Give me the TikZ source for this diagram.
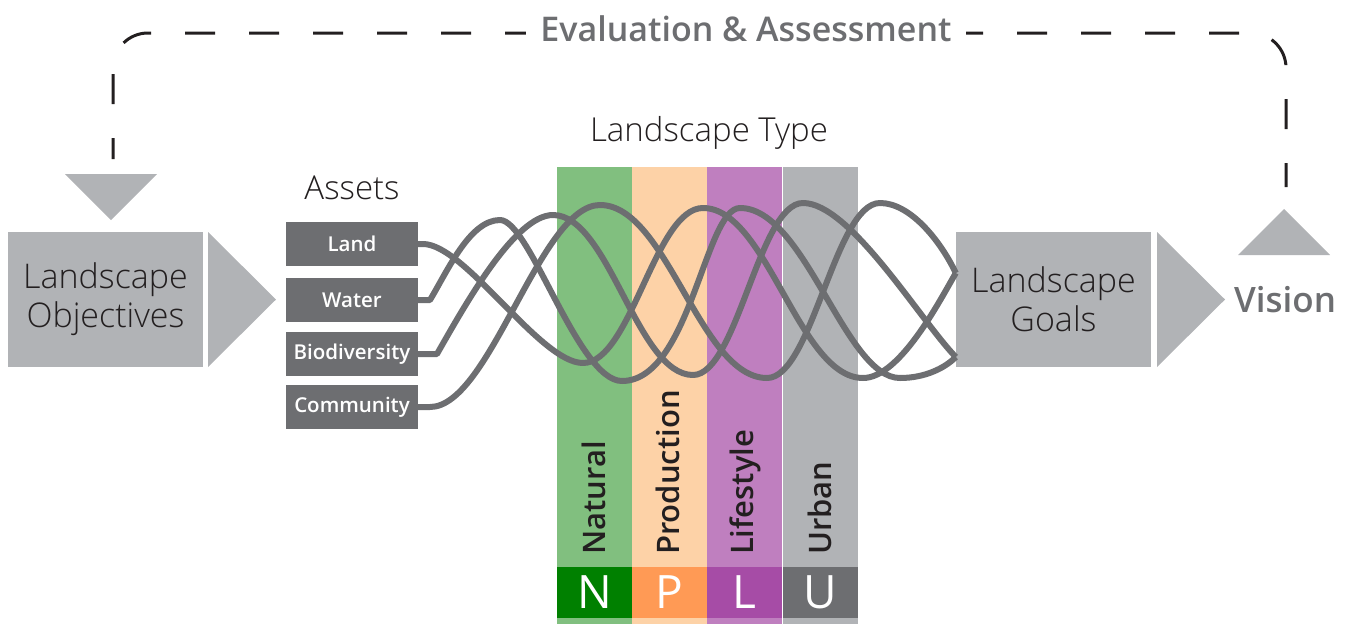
\documentclass[tikz,border=0pt]{standalone}
\usepackage{fontspec}
\setmainfont{Open Sans}
% light and semibold faces, with safe fallbacks
\IfFontExistsTF{Open Sans Light}
  {\newfontfamily\thinfont{Open Sans Light}}
  {\IfFontExistsTF{OpenSans-Light.ttf}
     {\newfontfamily\thinfont{OpenSans-Light.ttf}}
     {\newfontfamily\thinfont{Open Sans}}}
\IfFontExistsTF{Open Sans Semibold}
  {\newfontfamily\semifont{Open Sans Semibold}}
  {\IfFontExistsTF{OpenSans-Semibold.ttf}
     {\newfontfamily\semifont{OpenSans-Semibold.ttf}}
     {\newfontfamily\semifont{Open Sans}[UprightFont=*, UprightFeatures={FakeBold=1.2}]}}
\usetikzlibrary{calc}

\definecolor{boxgray}{HTML}{B1B3B6}
\definecolor{assetgray}{HTML}{6D6E71}
\definecolor{wavegray}{HTML}{6D6E71}
\definecolor{inkdark}{HTML}{231F20}
\definecolor{natgreen}{HTML}{81BF7F}
\definecolor{prodpeach}{HTML}{FDD2A7}
\definecolor{lifepurple}{HTML}{BF7FBF}
\definecolor{urbgray}{HTML}{B1B3B6}
\definecolor{natband}{HTML}{008000}
\definecolor{prodband}{HTML}{FF9A55}
\definecolor{lifeband}{HTML}{A64CA6}
\definecolor{urbband}{HTML}{6D6E71}

\tikzset{
  bigbox/.style={fill=boxgray, minimum width=195pt, minimum height=135pt,
    inner sep=0pt, text=inkdark, align=center,
    font=\thinfont\fontsize{34}{39}\selectfont},
  assetbox/.style={fill=assetgray, minimum width=132pt, minimum height=44pt,
    inner sep=0pt, text=white, font=\semifont\fontsize{20.5}{23}\selectfont},
  typecol/.style={minimum width=75pt, minimum height=457pt, inner sep=0pt},
  band/.style={minimum width=75pt, minimum height=51pt, inner sep=0pt,
    text=white, font=\fontsize{46}{50}\selectfont},
  typelabel/.style={rotate=90, anchor=base west, inner sep=0pt, text=inkdark,
    font=\semifont\fontsize{31}{34}\selectfont},
  caption/.style={text=inkdark, font=\thinfont\fontsize{33}{37}\selectfont},
  flow/.style={draw=wavegray, line width=6pt, line join=round},
  loopline/.style={draw=inkdark, line width=3pt,
    dash pattern=on 30pt off 34pt, dash phase=9pt, rounded corners=35pt},
  arrowtri/.style={fill=boxgray},
}

\begin{document}
\begin{tikzpicture}[x=1pt, y=-1pt]
\useasboundingbox (0,0) rectangle (1351,624);

% landscape type columns
\node[typecol, fill=natgreen]   (natcol)  at (594.5,395.5) {};
\node[typecol, fill=prodpeach]  (prodcol) at (669.5,395.5) {};
\node[typecol, fill=lifepurple] (lifecol) at (744.5,395.5) {};
\node[typecol, fill=urbgray]    (urbcol)  at (820,395.5) {};

\node[band, fill=natband]  (nband) at (594.5,592.5) {N};
\node[band, fill=prodband] (pband) at (669.5,592.5) {P};
\node[band, fill=lifeband] (lband) at (744.5,592.5) {L};
\node[band, fill=urbband]  (uband) at (820,592.5) {U};

\node[typelabel] (natlab)  at (605,555) {Natural};
\node[typelabel] (prodlab) at (679,555) {Production};
\node[typelabel] (lifelab) at (753,555) {Lifestyle};
\node[typelabel] (urblab)  at (831,555) {Urban};

\node[caption] (typecap) at (709,133) {Landscape Type};
\node[caption] (assetcap) at (352,188) {Assets};

% objectives and goals
\node[bigbox] (obj)   at (105.5,299.5) {Landscape\\Objectives};
\node[bigbox] (goals) at (1053.5,299.5) {Landscape\\Goals};

\fill[arrowtri] (208,232) -- (276,299.5) -- (208,367) -- cycle;
\fill[arrowtri] (1157,232) -- (1225,299.5) -- (1157,367) -- cycle;
\fill[arrowtri] (65,174) -- (157,174) -- (111,220) -- cycle;
\fill[arrowtri] (1238,255) -- (1330,255) -- (1284,209) -- cycle;

\node[text=assetgray, font=\semifont\fontsize{35}{38}\selectfont] (vision) at (1285,300) {Vision};

% assets
\node[assetbox] (land)  at (352,244) {Land};
\node[assetbox] (water) at (352,300) {Water};
\node[assetbox] (bio)   at (352,354) {Biodiversity};
\node[assetbox] (comm)  at (352,407) {Community};

% entry points on the goals box
\coordinate (gtop) at ([yshift=26.5pt]goals.west);
\coordinate (gbot) at ([yshift=-57.5pt]goals.west);

% woven asset flows
\draw[flow] (land.east) -- (423,244)
  .. controls (465,244) and (540,363) .. (583,363)
  .. controls (631,363) and (655,208) .. (703,208)
  .. controls (767,208) and (799,378) .. (863,378)
  .. controls (900,378) and (940,300) .. (gtop);
\draw[flow] (water.east) -- (430,300)
  .. controls (448,270) and (470,220) .. (500,220)
  .. controls (530,220) and (578,381) .. (622,381)
  .. controls (690,381) and (705,208) .. (740,208)
  .. controls (805,208) and (845,378) .. (900,378)
  .. controls (925,378) and (945,368) .. (gbot);
\draw[flow] (bio.east) -- (437,354)
  .. controls (465,305) and (515,215) .. (553,215)
  .. controls (609,215) and (637,375) .. (693,375)
  .. controls (737,375) and (759,203) .. (803,203)
  .. controls (850,203) and (920,320) .. (gbot);
\draw[flow] (comm.east) -- (430,407)
  .. controls (490,407) and (540,205) .. (600,205)
  .. controls (667,205) and (700,378) .. (767,378)
  .. controls (812,378) and (835,203) .. (880,203)
  .. controls (910,203) and (940,240) .. (gtop);

% evaluation feedback loop
\coordinate (loopin)  at (113,159);
\coordinate (loopout) at (1286,187);
\draw[loopline] (loopin) -- (113,33) -- (1286,33) -- (loopout);
\node[fill=white, inner xsep=14pt, inner ysep=4pt, text=assetgray,
  font=\semifont\fontsize{34}{37}\selectfont] (evallab) at (746,29) {Evaluation \& Assessment};
\end{tikzpicture}
\end{document}
